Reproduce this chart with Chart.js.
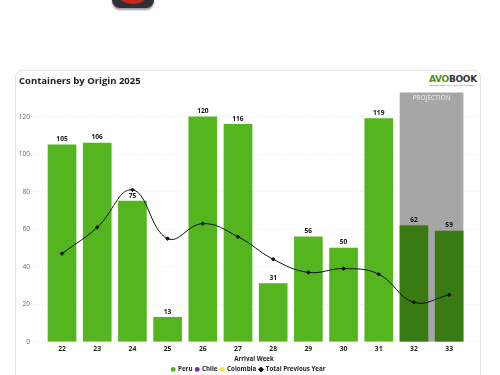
<!DOCTYPE html>
<html>
<head>
<meta charset="utf-8">
<style>
html,body{margin:0;padding:0;background:#fff;width:500px;height:375px;overflow:hidden}
#card{position:absolute;left:15px;top:70px;width:466px;height:330px;border:1px solid #e4e4e4;border-radius:7px;box-sizing:border-box}
#icon{position:absolute;left:112px;top:-22px;width:42px;height:30px;border-radius:8px;background:#2f3038;box-shadow:0 2px 2px #999}
#icon i{position:absolute;left:5px;top:1px;width:32px;height:25px;border-radius:50%;background:#c8281c}
#logo{position:absolute;left:429px;top:74px;font:800 9px "DejaVu Sans",sans-serif;letter-spacing:-.3px;color:#333;line-height:10px}
#logo b{color:#4f8f1e;font-weight:800}
#logo small{display:block;font:2.5px "Open Sans";color:#555;line-height:3px;letter-spacing:0}
canvas{position:absolute;left:0;top:0}
</style>
</head>
<body>
<div id="icon"><i></i></div>
<div id="card"></div>
<div id="logo"><b>AVO</b>BOOK<small>CONNECTING THE AVOCADO INDUSTRY</small></div>
<canvas id="c" width="500" height="375"></canvas>
<script src="https://cdn.jsdelivr.net/npm/chart.js@4"></script>
<script>
const weeks = [22,23,24,25,26,27,28,29,30,31,32,33];
const peru = [105,106,75,13,120,116,31,56,50,119,62,59];
const previousYear = [47,61,81,55,63,56,44,37,39,36,21,25];
const projectionWeek = [32.5];
const projectionTop = [133];
const yTicks = [0,20,40,60,80,100,120];
const GREEN='#54B51E', DARK='#397A14', GRAY='#A6A6A6';
const FONT='"Open Sans",sans-serif';

const labelsPlugin = {
  id:'valueLabels',
  afterDatasetsDraw(chart){
    const ctx=chart.ctx;
    const m=chart.getDatasetMeta(0);
    ctx.save();
    ctx.textAlign='center';ctx.textBaseline='middle';
    ctx.font='bold 6.6px '+FONT;ctx.fillStyle='#111';
    m.data.forEach((el,i)=>{ctx.fillText(String(peru[i]),el.x,el.y-5.5);});
    const p=chart.getDatasetMeta(4).data[0];
    ctx.font='6.5px '+FONT;ctx.fillStyle='#EFEFEF';
    ctx.fillText('PROJECTION',p.x,p.y+6);
    ctx.restore();
  }
};

new Chart(document.getElementById('c'),{
  data:{
    datasets:[
      {type:'bar',label:'Peru',data:weeks.map((w,i)=>({x:w,y:peru[i]})),
        backgroundColor:weeks.map(w=>w>=32?DARK:GREEN),barThickness:28,grouped:false,order:5,pointStyle:'circle'},
      {type:'bar',label:'Chile',data:[],backgroundColor:'#7030A0',barThickness:28,grouped:false,order:6,pointStyle:'circle'},
      {type:'bar',label:'Colombia',data:[],backgroundColor:'#FFE135',barThickness:28,grouped:false,order:7,pointStyle:'circle'},
      {type:'line',label:'Total Previous Year',data:weeks.map((w,i)=>({x:w,y:previousYear[i]})),
        borderColor:'#111',backgroundColor:'#111',borderWidth:1,tension:0.42,pointStyle:'rectRot',pointRadius:1.8,pointHoverRadius:1.8,order:1},
      {type:'bar',label:'Projection',data:projectionWeek.map((w,i)=>({x:w,y:projectionTop[i]})),
        backgroundColor:GRAY,barThickness:63,grouped:false,order:10}
    ]
  },
  options:{
    responsive:false,animation:false,
    layout:{padding:{left:19,right:22,top:75.5,bottom:-7.5}},
    plugins:{
      title:{display:true,text:'Containers by Origin 2025',align:'start',color:'#222',
        font:{family:FONT,size:9.5,weight:'bold'},padding:{top:0,bottom:5.5}},
      legend:{position:'bottom',
        labels:{usePointStyle:true,boxWidth:3.5,boxHeight:3.5,padding:3,color:'#222',
          font:{family:FONT,size:6.2,weight:'bold'},
          sort:(a,b)=>a.datasetIndex-b.datasetIndex,
          filter:(item)=>item.text!=='Projection'}},
      tooltip:{enabled:false}
    },
    scales:{
      x:{type:'linear',min:21.09,max:33.82,offset:false,
        afterBuildTicks:s=>{s.ticks=weeks.map(v=>({value:v}));},
        grid:{display:false,drawTicks:false,tickLength:0},border:{display:false},
        ticks:{autoSkip:false,maxRotation:0,color:'#222',padding:3,font:{family:FONT,size:6.8,weight:'bold'},callback:v=>String(v)},
        title:{display:true,text:'Arrival Week',color:'#222',font:{family:FONT,size:6.2,weight:'bold'},padding:{top:0,bottom:0}}
      },
      y:{min:0,max:133,
        afterBuildTicks:s=>{s.ticks=yTicks.map(v=>({value:v}));},
        afterFit:s=>{s.width=11;},
        grid:{color:'#E4E4E4',lineWidth:0.8,drawTicks:false},border:{display:false,dash:[1,2]},
        ticks:{color:'#666',padding:0,font:{family:FONT,size:6.5}}
      }
    }
  },
  plugins:[labelsPlugin]
});
</script>
</body>
</html>
